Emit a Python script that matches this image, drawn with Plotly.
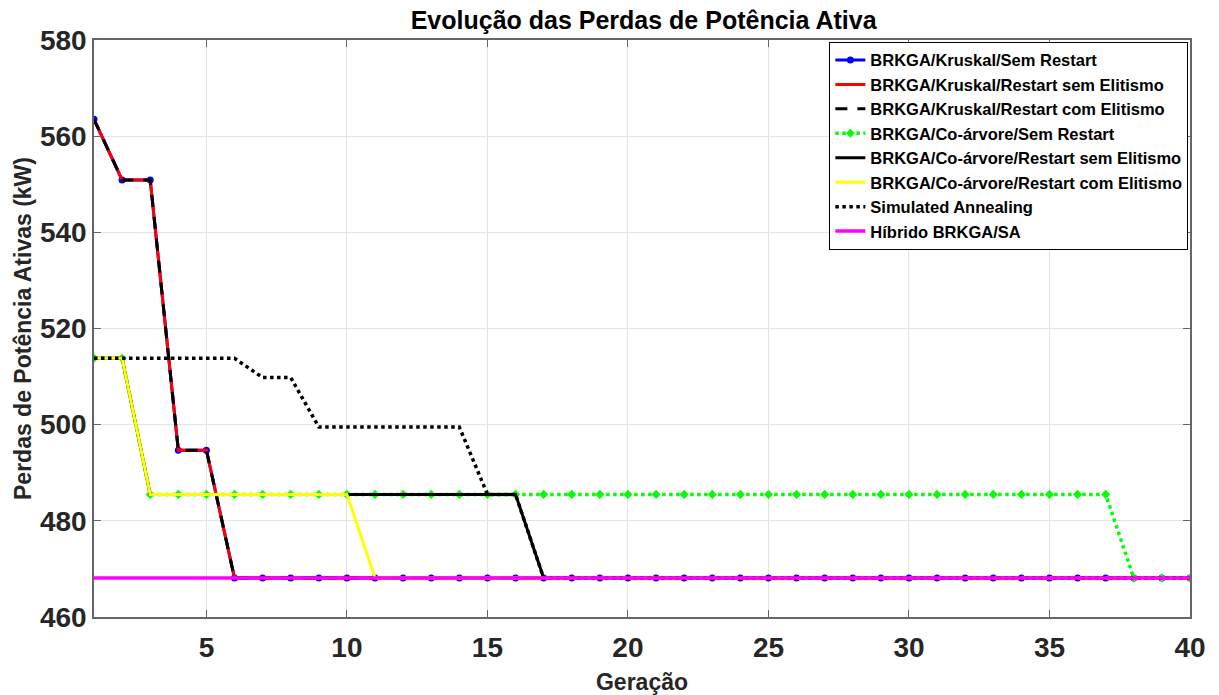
import plotly.graph_objects as go

geracao = list(range(1, 41))

# Perdas (kW) por geração para cada método
kruskal_sem_restart = [563.5, 550.9, 550.9, 494.7, 494.7] + [468.1] * 35
kruskal_restart_sem_elit = [563.5, 550.9, 550.9, 494.7, 494.7] + [468.1] * 35
kruskal_restart_com_elit = [563.5, 550.9, 550.9, 494.7, 494.7] + [468.1] * 35
coarvore_sem_restart = [513.8, 513.8] + [485.5] * 35 + [468.1] * 3
coarvore_restart_sem_elit = [513.8, 513.8] + [485.5] * 14 + [468.1] * 24
coarvore_restart_com_elit = [513.8, 513.8] + [485.5] * 8 + [468.1] * 30
simulated_annealing = [513.8] * 6 + [509.8] * 2 + [499.5] * 6 + [485.5] * 2 + [468.1] * 24
hibrido_brkga_sa = [468.1] * 40

nomes = [
    "BRKGA/Kruskal/Sem Restart",
    "BRKGA/Kruskal/Restart sem Elitismo",
    "BRKGA/Kruskal/Restart com Elitismo",
    "BRKGA/Co-árvore/Sem Restart",
    "BRKGA/Co-árvore/Restart sem Elitismo",
    "BRKGA/Co-árvore/Restart com Elitismo",
    "Simulated Annealing",
    "Híbrido BRKGA/SA",
]

y_ticks = [460, 480, 500, 520, 540, 560, 580]
x_ticks = [5, 10, 15, 20, 25, 30, 35, 40]

fig = go.Figure()

fig.add_trace(go.Scatter(x=geracao, y=kruskal_sem_restart, name=nomes[0], mode="lines+markers",
                         line=dict(color="#0000ff", width=3), marker=dict(symbol="circle", size=7, color="#0000ff")))
fig.add_trace(go.Scatter(x=geracao, y=kruskal_restart_sem_elit, name=nomes[1], mode="lines",
                         line=dict(color="#ff0000", width=3)))
fig.add_trace(go.Scatter(x=geracao, y=kruskal_restart_com_elit, name=nomes[2], mode="lines",
                         line=dict(color="#000000", width=3, dash="12px,10px")))
fig.add_trace(go.Scatter(x=geracao, y=coarvore_sem_restart, name=nomes[3], mode="lines+markers",
                         line=dict(color="#00ff00", width=3.5, dash="dot"),
                         marker=dict(symbol="diamond", size=7, color="#00ff00")))
fig.add_trace(go.Scatter(x=geracao, y=coarvore_restart_sem_elit, name=nomes[4], mode="lines",
                         line=dict(color="#000000", width=3)))
fig.add_trace(go.Scatter(x=geracao, y=coarvore_restart_com_elit, name=nomes[5], mode="lines",
                         line=dict(color="#ffff00", width=3)))
fig.add_trace(go.Scatter(x=geracao, y=simulated_annealing, name=nomes[6], mode="lines",
                         line=dict(color="#000000", width=3.5, dash="dot")))
fig.add_trace(go.Scatter(x=geracao, y=hibrido_brkga_sa, name=nomes[7], mode="lines",
                         line=dict(color="#ff00ff", width=3.5)))

axis_common = dict(
    showgrid=True, gridcolor="#e3e3e3", gridwidth=1,
    showline=True, linecolor="#666666", linewidth=1.5, mirror="allticks",
    ticks="inside", ticklen=7, tickcolor="#666666",
    zeroline=False, automargin=False,
    tickfont=dict(family="Liberation Sans, Arial", size=28, color="#262626", weight="bold"),
)

fig.update_layout(
    width=1219, height=695,
    paper_bgcolor="white", plot_bgcolor="white",
    margin=dict(l=94, r=29, t=40, b=78),
    font=dict(family="Liberation Sans, Arial", color="#262626"),
    title=dict(text="<b>Evolução das Perdas de Potência Ativa</b>", x=0.528, xanchor="center",
               y=0.971, yanchor="middle", font=dict(size=25, color="#000000")),
    xaxis=dict(range=[1, 40], tickvals=x_ticks, ticklabelstandoff=5,
               title=dict(text="<b>Geração</b>", font=dict(size=23), standoff=14), **axis_common),
    yaxis=dict(range=[460, 580], tickvals=y_ticks,
               title=dict(text="<b>Perdas de Potência Ativas (kW)</b>", font=dict(size=23), standoff=2),
               **axis_common),
    legend=dict(x=0.9985, xanchor="right", y=0.997, yanchor="top",
                bgcolor="white", bordercolor="#000000", borderwidth=1,
                font=dict(size=16.5, color="#000000", weight="bold"),
                tracegroupgap=0, itemwidth=30),
)

fig.write_html("out.html")
